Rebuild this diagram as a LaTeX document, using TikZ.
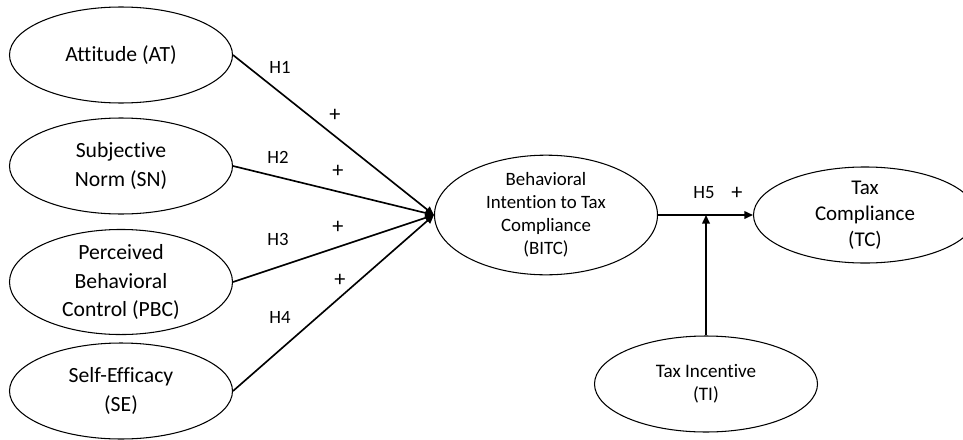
\documentclass[tikz,border=0pt]{standalone}
\usepackage{fontspec}
\setmainfont{Carlito}[Ligatures=NoCommon]
\usetikzlibrary{arrows.meta, shapes.geometric}

\begin{document}
\begin{tikzpicture}[x=0.3mm, y=-0.3mm,
    construct/.style={draw, ellipse, line width=0.9pt, minimum width=66.9mm,
        minimum height=28.8mm, inner sep=0pt, align=center,
        font=\fontsize{18.5}{24}\selectfont},
    smalltext/.style={font=\fontsize{16.1}{19.6}\selectfont},
    hyp/.style={font=\fontsize{16}{18}\selectfont},
    sign/.style={font=\fontsize{19}{20}\selectfont},
    link/.style={line width=1.4pt, -{Triangle[length=2.6mm, width=2.3mm]}}]
    \useasboundingbox (0,0) rectangle (963,439);
    % Predictors
    \node[construct] (att) at (121,55) {Attitude (AT)};
    \node[construct] (sn) at (121,166) {Subjective\\Norm (SN)};
    \node[construct] (pbc) at (121,282) {Perceived\\Behavioral\\Control (PBC)};
    \node[construct] (se) at (121,391) {Self-Efficacy\\(SE)};
    % Intention, outcome and moderator
    \node[construct, smalltext] (bitc) at (546,215) {Behavioral\\Intention to Tax\\Compliance\\(BITC)};
    \node[construct, font=\fontsize{17.9}{22}\selectfont] (tc) at (865,215) {Tax\\Compliance\\(TC)};
    \node[construct, font=\fontsize{16.3}{19.6}\selectfont] (ti) at (706,384) {Tax Incentive\\(TI)};
    % Paths
    \foreach \src in {att, sn, pbc, se}
        \draw[link] (\src.east) -- (bitc.west);
    \draw[link] (bitc.east) -- (tc.west);
    \coordinate (mod) at (ti.north |- bitc.east);
    \draw[link] (ti.north) -- (mod);
    % Hypothesis labels
    \foreach \name/\x/\y/\lab in {h1/280/67/H1, h2/278/157/H2, h3/278/239/H3,
        h4/280/317/H4, h5/704/193/H5}
        \node[hyp] (\name) at (\x,\y) {\lab};
    \foreach \name/\x/\y in {p1/335/115, p2/338/171, p3/338/227, p4/340/280, p5/737/193}
        \node[sign] (\name) at (\x,\y) {+};
\end{tikzpicture}
\end{document}
